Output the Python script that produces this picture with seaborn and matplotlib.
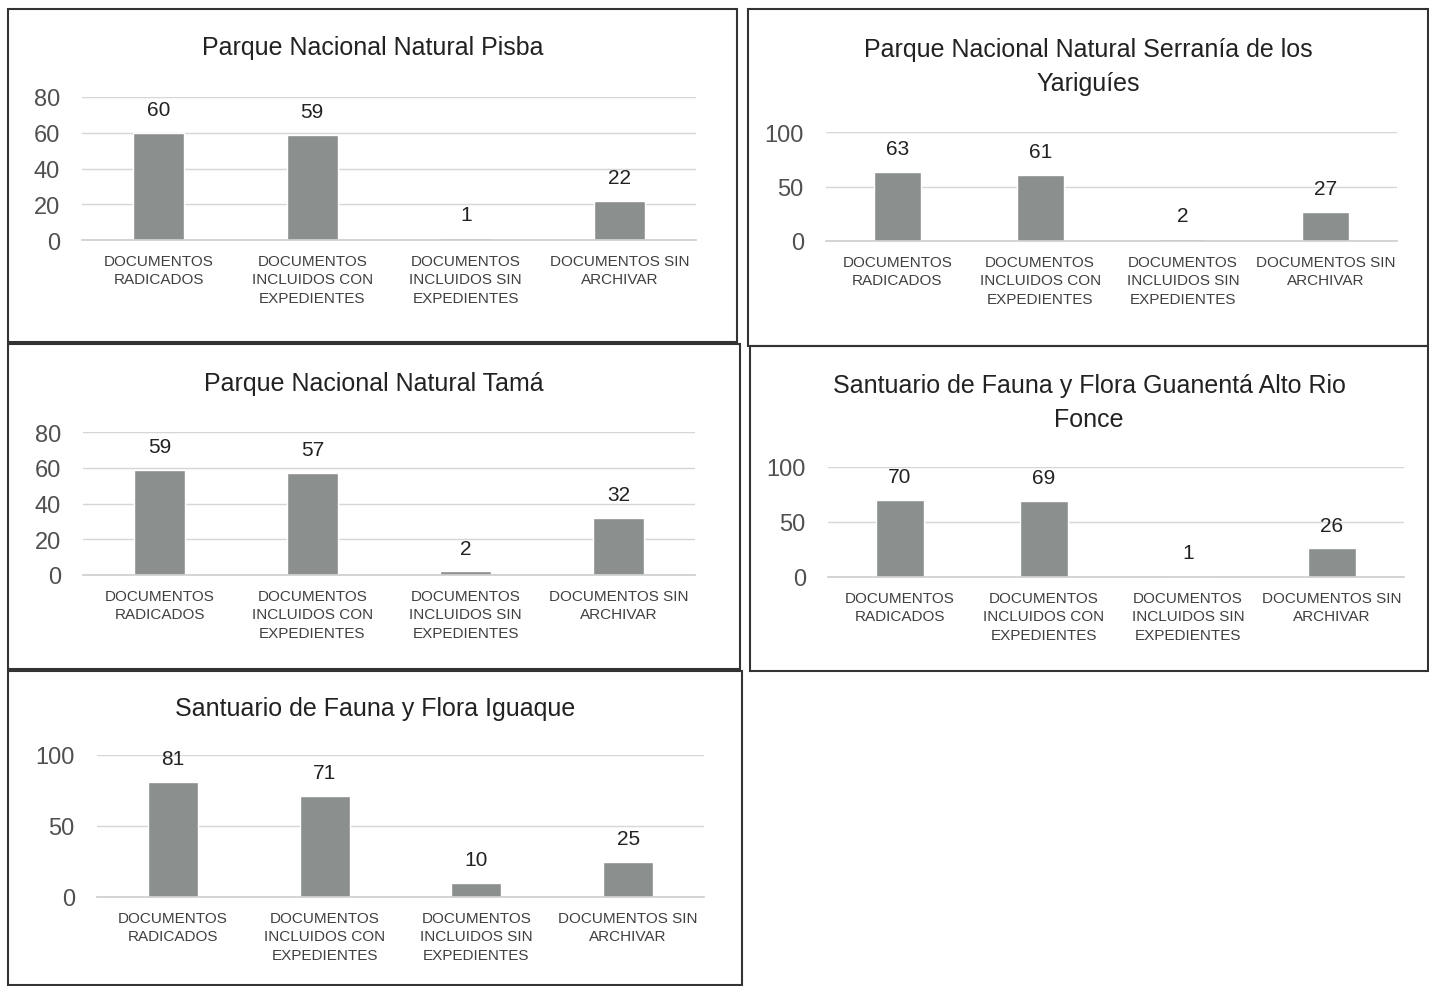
import numpy as np
import pandas as pd
import matplotlib
matplotlib.use("Agg")
import matplotlib.pyplot as plt
import seaborn as sns
from matplotlib.patches import Rectangle

# === Datos ===
categorias = ["DOCUMENTOS\nRADICADOS",
              "DOCUMENTOS\nINCLUIDOS CON\nEXPEDIENTES",
              "DOCUMENTOS\nINCLUIDOS SIN\nEXPEDIENTES",
              "DOCUMENTOS SIN\nARCHIVAR"]

titulos = ["Parque Nacional Natural Pisba",
           "Parque Nacional Natural Serranía de los\nYariguíes",
           "Parque Nacional Natural Tamá",
           "Santuario de Fauna y Flora Guanentá Alto Rio\nFonce",
           "Santuario de Fauna y Flora Iguaque"]

pisba = [60, 59, 1, 22]
yariguies = [63, 61, 2, 27]
tama = [59, 57, 2, 32]
guanenta = [70, 69, 1, 26]
iguaque = [81, 71, 10, 25]

valores = [pisba, yariguies, tama, guanenta, iguaque]
ymax = [80, 100, 80, 100, 100]
ypaso = [20, 50, 20, 50, 50]

sns.set_theme(style="white")
plt.rcParams['font.family'] = ['Liberation Sans', 'DejaVu Sans']

W, H = 1429, 987
fig = plt.figure(figsize=(W / 100, H / 100), dpi=100)
fig.patch.set_facecolor("white")

def px(x0, ytop, x1, ybot):
    return [x0 / W, 1 - ybot / H, (x1 - x0) / W, (ybot - ytop) / H]

# posiciones de ejes (pixeles) y marcos
ejes = [px(82, 98, 696, 241), px(826, 133, 1397, 242), px(83, 433, 695, 576),
        px(828, 468, 1404, 578), px(97, 756, 704, 898)]
marcos = [(8, 10, 737, 343), (748, 10, 1428, 347), (8, 345, 740, 670),
          (750, 347, 1428, 672), (8, 672, 742, 986)]
titulo_y = [48, 67, 384, 403, 709]

for i in range(5):
    ax = fig.add_axes(ejes[i])
    df = pd.DataFrame({"cat": categorias, "val": valores[i]})
    sns.barplot(data=df, x="cat", y="val", color="#8b8f8d", width=0.33,
                saturation=1, ax=ax)
    ax.set_ylim(0, ymax[i])
    ax.set_xlim(-0.5, 3.5)
    ax.set_yticks(np.arange(0, ymax[i] + 1, ypaso[i]))
    ax.yaxis.grid(True, color="#d6d6d6", linewidth=1)
    ax.set_axisbelow(True)
    for s in ["top", "right", "left"]:
        ax.spines[s].set_visible(False)
    ax.spines["bottom"].set_color("#cfcfcf")
    ax.set_xlabel("")
    ax.set_ylabel("")
    ax.tick_params(axis="y", labelsize=17, colors="#505050", length=0, pad=16)
    ax.tick_params(axis="x", labelsize=11, colors="#404040", length=0, pad=10)
    for lab in ax.get_xticklabels():
        lab.set_linespacing(1.4)
    ax.bar_label(ax.containers[0], fontsize=15, color="#222222", padding=10)

    x0, y0, x1, y1 = marcos[i]
    fig.add_artist(Rectangle((x0 / W, 1 - y1 / H), (x1 - x0) / W, (y1 - y0) / H,
                             transform=fig.transFigure, fill=False,
                             edgecolor="#333333", linewidth=1.5))
    fig.text((x0 + x1) / 2 / W, 1 - titulo_y[i] / H, titulos[i],
             ha="center", va="center", fontsize=18, color="#222222",
             linespacing=1.55)

plt.savefig("out.png", dpi=100)
